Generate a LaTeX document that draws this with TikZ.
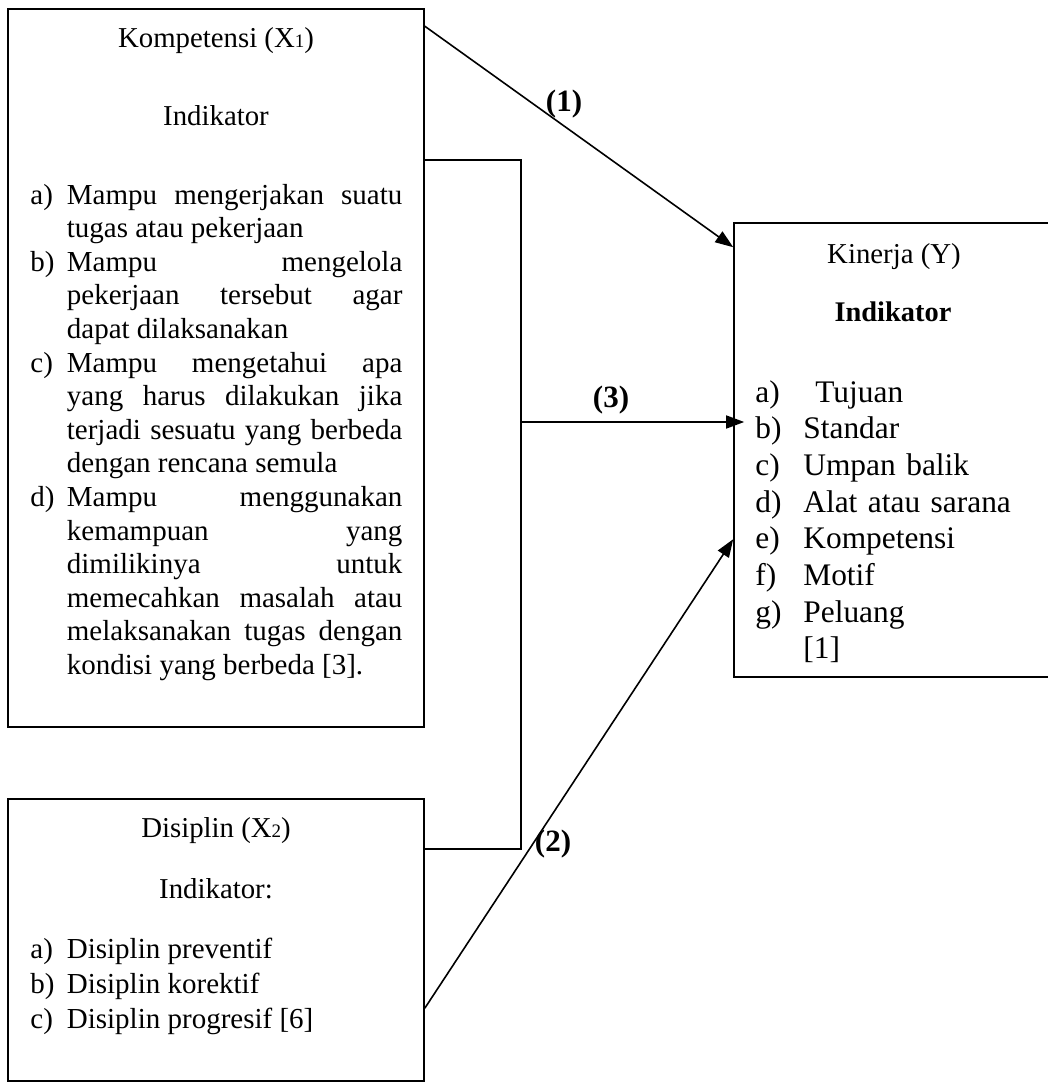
\documentclass[tikz,border=0pt]{standalone}
\usepackage{fontspec}
\setmainfont{Liberation Serif}
\usetikzlibrary{arrows.meta,fit}

\newcommand{\subidx}[1]{{\fontsize{9.5}{10}\selectfont #1}}
\newcommand{\itm}[2]{\hangindent=18.25pt\hangafter=1\noindent\makebox[18.25pt][l]{#1}#2\par}
\newcommand{\yitm}[2]{\makebox[24pt][l]{#1}#2}

\begin{document}
\begin{tikzpicture}[
    x=0.5pt,
    y=-0.5pt,
    box/.style={draw, line width=0.8pt, inner sep=0pt},
    ttl/.style={anchor=base, inner sep=0pt, font=\fontsize{14.4}{17}\selectfont},
    lst/.style={anchor=base west, inner sep=0pt, text width=186pt, align=justify,
      font=\fontsize{14.5}{16.8}\selectfont},
    ylst/.style={anchor=base west, inner sep=0pt, text width=130pt, align=left,
      font=\fontsize{15.7}{18.35}\selectfont},
    num/.style={inner sep=0pt, font=\bfseries\fontsize{15.5}{17}\selectfont},
    arr/.style={-{Triangle[length=9pt,width=6.5pt]}, line width=0.8pt},
  ]
  \useasboundingbox (0,0) rectangle (1048,1089);
  % boxes
  \node[box, fit={(8,9) (424,727)}] (komp) {};
  \node[box, fit={(8,799) (424,1081)}] (disc) {};
  \node[box, fit={(734,223) (1054,677)}] (kin) {};
  % Kompetensi
  \node[ttl] (kompT) at (216,47) {Kompetensi (X\subidx{1})};
  \node[ttl] (kompI) at (216,125) {Indikator};
  \node[lst] (kompL) at (30,204) {%
    \itm{a)}{Mampu mengerjakan suatu\linebreak tugas atau pekerjaan}%
    \itm{b)}{Mampu mengelola\linebreak pekerjaan tersebut agar\linebreak dapat dilaksanakan}%
    \itm{c)}{Mampu mengetahui apa\linebreak yang harus dilakukan jika\linebreak terjadi sesuatu yang berbeda\linebreak dengan rencana semula}%
    \itm{d)}{Mampu menggunakan\linebreak kemampuan yang\linebreak dimilikinya untuk\linebreak memecahkan masalah atau\linebreak melaksanakan tugas dengan\linebreak kondisi yang berbeda [3].}};
  % Disiplin
  \node[ttl] (discT) at (216,837) {Disiplin (X\subidx{2})};
  \node[ttl] (discI) at (216,898.5) {Indikator:};
  \node[lst, font=\fontsize{14.5}{17.5}\selectfont] (discL) at (30,958.6) {%
    \itm{a)}{Disiplin preventif}%
    \itm{b)}{Disiplin korektif}%
    \itm{c)}{Disiplin progresif [6]}};
  % Kinerja
  \node[ttl] (kinT) at (894,263) {Kinerja (Y)};
  \node[ttl, font=\bfseries\fontsize{14.2}{17}\selectfont] (kinI) at (893,321) {Indikator};
  \node[ylst] (kinL) at (755,402) {%
    \yitm{a)}{\hspace{6pt}Tujuan}\\
    \yitm{b)}{Standar}\\
    \yitm{c)}{Umpan balik}\\
    \yitm{d)}{Alat atau sarana}\\
    \yitm{e)}{Kompetensi}\\
    \yitm{f)}{Motif}\\
    \yitm{g)}{Peluang}\\
    \yitm{}{[1]}};
  % connectors
  \draw[arr] ([yshift=-9pt]komp.north east) -- ([yshift=-12.5pt]kin.north west);
  \node[num] (n1) at (564,104) {(1)};
  \draw[line width=0.8pt] ([yshift=-76pt]komp.north east) -- ++(48pt,0)
    |- ([yshift=-25.5pt]disc.north east);
  \coordinate (mid) at (520,422);
  \draw[arr, shorten >=-5.5pt] (mid) -- (mid -| kin.west);
  \node[num] (n3) at (611,400) {(3)};
  \draw[arr] ([yshift=-105pt]disc.north east) -- ([yshift=-158.5pt]kin.north west);
  \node[num] (n2) at (553,844) {(2)};
\end{tikzpicture}
\end{document}
